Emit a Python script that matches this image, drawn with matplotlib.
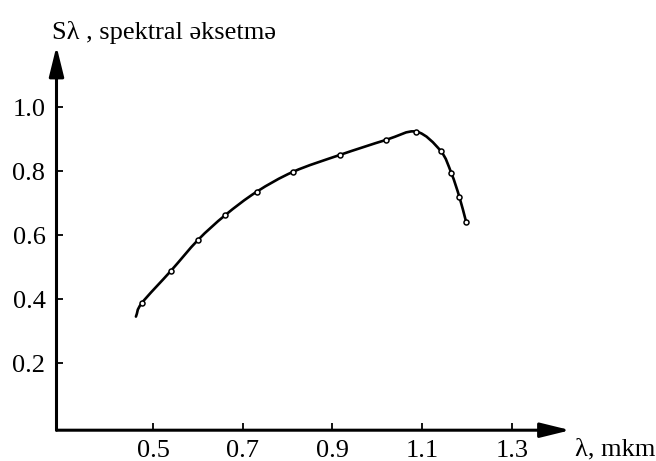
import matplotlib
matplotlib.use("Agg")
import matplotlib.pyplot as plt
from matplotlib.path import Path
from matplotlib.patches import PathPatch

plt.rcParams['font.family'] = ['Liberation Serif', 'DejaVu Serif']

# data
wavelength = [0.475, 0.540, 0.600, 0.661, 0.731, 0.813, 0.916, 1.019, 1.087, 1.141, 1.165, 1.183, 1.198]
response = [0.387, 0.488, 0.584, 0.662, 0.735, 0.798, 0.850, 0.897, 0.923, 0.863, 0.793, 0.718, 0.640]
curve_start_x = [0.462]
curve_start_y = [0.345]
x_ticks = [0.5, 0.7, 0.9, 1.1, 1.3]
x_tick_labels = ['0.5', '0.7', '0.9', '1.1', '1.3']
y_ticks = [0.2, 0.4, 0.6, 0.8, 1.0]
y_tick_labels = ['0.2', '0.4', '0.6', '0.8', '1.0']
y_label = 'Sλ , spektral əksetmə'
x_label = 'λ, mkm'

W, H = 656, 461
fig = plt.figure(figsize=(W / 100, H / 100), dpi=100)
left_px, right_px = 56.5, 570.3
bottom_px, top_px = 430.2, 46.2
ax = fig.add_axes([left_px / W, (H - bottom_px) / H, (right_px - left_px) / W, (bottom_px - top_px) / H])
ax.set_xlim(0.285, 1.43)
ax.set_ylim(-0.01, 1.19)

for s in ax.spines.values():
    s.set_visible(False)

arrow_kw = dict(arrowstyle='-|>,head_length=1.3,head_width=0.32', lw=2.2, color='black',
                mutation_scale=14, shrinkA=0, shrinkB=0)
ax.annotate('', xy=(1, 0), xytext=(0, 0), xycoords='axes fraction',
            textcoords='axes fraction', arrowprops=arrow_kw, annotation_clip=False)
ax.annotate('', xy=(0, 1), xytext=(0, 0), xycoords='axes fraction',
            textcoords='axes fraction', arrowprops=arrow_kw, annotation_clip=False)

# smooth curve through the read points (Catmull-Rom drawn as cubic Bezier segments)
cx = curve_start_x + wavelength
cy = curve_start_y + response
pts = list(zip(cx, cy))
verts = [pts[0]]
codes = [Path.MOVETO]
n = len(pts)
for i in range(n - 1):
    p1 = pts[i]
    p2 = pts[i + 1]
    p0 = pts[i - 1] if i > 0 else (2 * p1[0] - p2[0], 2 * p1[1] - p2[1])
    p3 = pts[i + 2] if i + 2 < n else (2 * p2[0] - p1[0], 2 * p2[1] - p1[1])
    c1 = (p1[0] + (p2[0] - p0[0]) / 6, p1[1] + (p2[1] - p0[1]) / 6)
    c2 = (p2[0] - (p3[0] - p1[0]) / 6, p2[1] - (p3[1] - p1[1]) / 6)
    verts += [c1, c2, p2]
    codes += [Path.CURVE4] * 3
ax.add_patch(PathPatch(Path(verts, codes), facecolor='none', edgecolor='black', lw=1.9,
                       capstyle='round', joinstyle='round', clip_on=False))
ax.plot(wavelength, response, linestyle='none', marker='o', markersize=3.6,
        markerfacecolor='white', markeredgecolor='black', markeredgewidth=1.1, clip_on=False)

ax.set_xticks(x_ticks)
ax.set_xticklabels(x_tick_labels)
ax.set_yticks(y_ticks)
ax.set_yticklabels(y_tick_labels)
ax.tick_params(axis='both', direction='in', length=5, width=1.3, labelsize=19, color='black')
ax.tick_params(axis='x', pad=7)
ax.tick_params(axis='y', pad=8)

fig.text(52 / W, 1 - 32 / H, y_label, fontsize=19, ha='left', va='center')
fig.text(575 / W, 1 - 449 / H, x_label, fontsize=19, ha='left', va='center')

fig.savefig('out.png', dpi=100, facecolor='white')
